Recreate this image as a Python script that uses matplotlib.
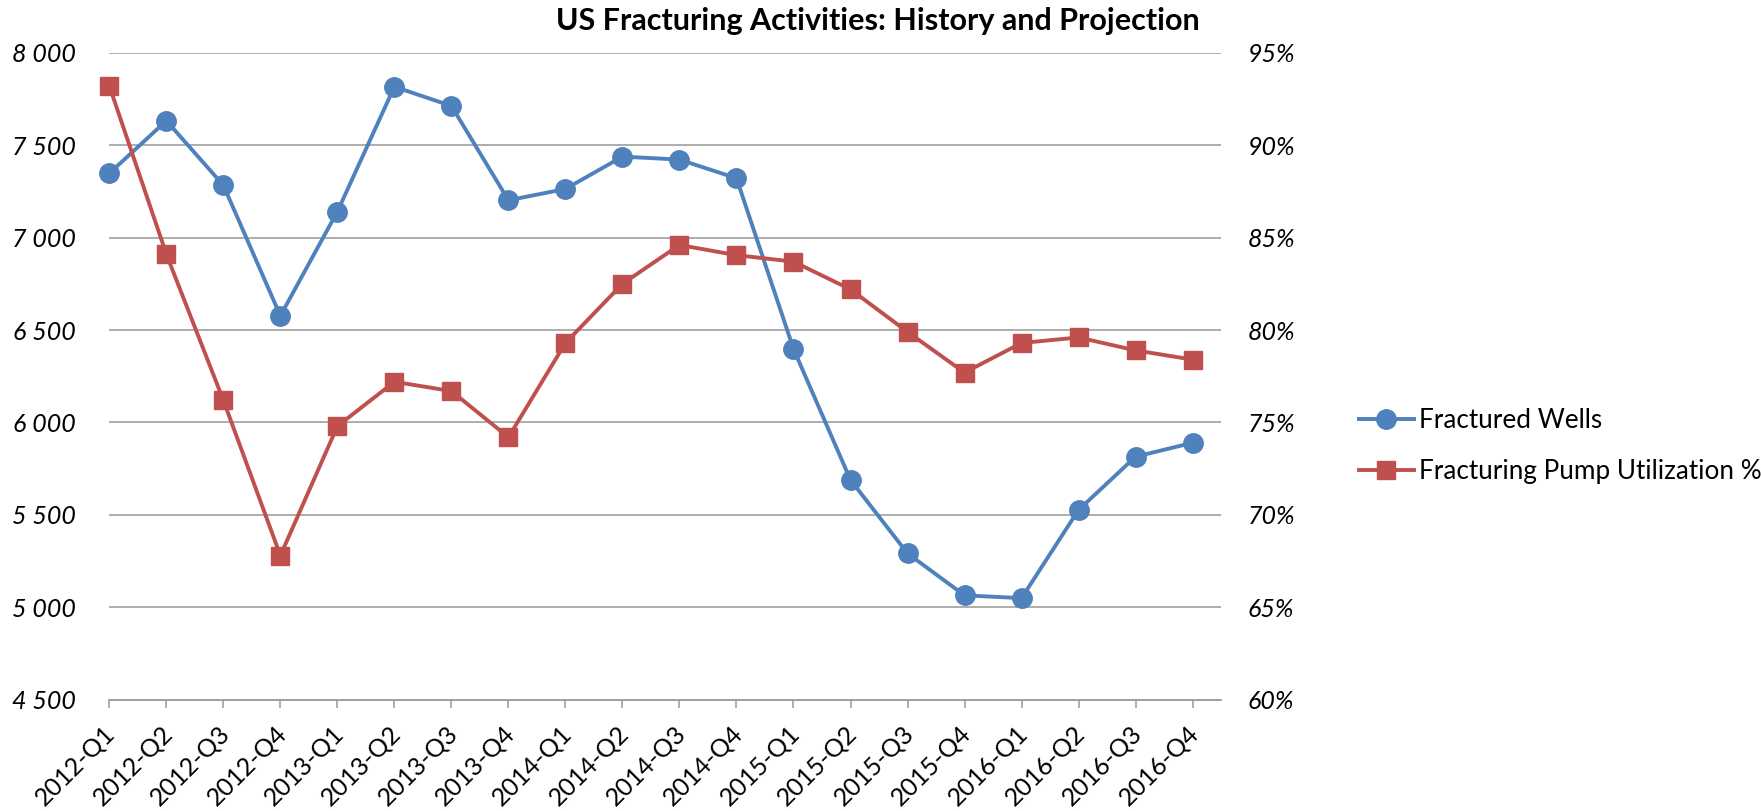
import numpy as np
import matplotlib
matplotlib.use('Agg')
import matplotlib.pyplot as plt
from matplotlib.ticker import FuncFormatter, MultipleLocator
from matplotlib.transforms import ScaledTranslation

plt.rcParams['font.family'] = ['Lato', 'DejaVu Sans']

# data
quarters = ['2012-Q1', '2012-Q2', '2012-Q3', '2012-Q4',
            '2013-Q1', '2013-Q2', '2013-Q3', '2013-Q4',
            '2014-Q1', '2014-Q2', '2014-Q3', '2014-Q4',
            '2015-Q1', '2015-Q2', '2015-Q3', '2015-Q4',
            '2016-Q1', '2016-Q2', '2016-Q3', '2016-Q4']
fractured_wells = [7348, 7632, 7283, 6577,
                   7141, 7816, 7712, 7202,
                   7263, 7438, 7422, 7321,
                   6398, 5689, 5292, 5065,
                   5050, 5527, 5815, 5890]
pump_util = [93.2, 84.1, 76.2, 67.8,
             74.8, 77.2, 76.7, 74.2,
             79.3, 82.5, 84.6, 84.05,
             83.7, 82.2, 79.9, 77.7,
             79.3, 79.6, 78.9, 78.4]

blue = '#4F81BD'
red = '#C0504D'
grid_c = '#A0A0A0'

fig = plt.figure(figsize=(17.61, 8.11), dpi=100)
ax = fig.add_axes([0.0621, 0.1371, 0.6313, 0.7979])
ax2 = ax.twinx()

x = np.arange(len(quarters))
l1, = ax.plot(x, fractured_wells, color=blue, lw=2.8, marker='o', ms=14,
              label='Fractured Wells', clip_on=False)
l2, = ax2.plot(x, np.array(pump_util) / 100, color=red, lw=2.8, marker='s', ms=13.5,
               label='Fracturing Pump Utilization %', clip_on=False)

ax.set_xlim(0, 19.5)
ax.set_ylim(4500, 8000)
ax2.set_ylim(0.60, 0.95)
ax.yaxis.set_major_locator(MultipleLocator(500))
ax2.yaxis.set_major_locator(MultipleLocator(0.05))
ax.yaxis.set_major_formatter(FuncFormatter(lambda v, p: '{:,.0f}'.format(v).replace(',', ' ')))
ax2.yaxis.set_major_formatter(FuncFormatter(lambda v, p: '{:.0f}%'.format(v * 100)))

ax.grid(axis='y', color=grid_c, lw=1.2)
ax.set_axisbelow(True)
for a in (ax, ax2):
    for s in ('left', 'right', 'top'):
        a.spines[s].set_visible(False)
    a.spines['bottom'].set_color(grid_c)
    a.spines['bottom'].set_linewidth(1.2)

ax.tick_params(axis='y', length=0, pad=24, labelsize=18)
ax2.tick_params(axis='y', length=0, pad=19, labelsize=18)
for lab in ax.get_yticklabels() + ax2.get_yticklabels():
    lab.set_fontstyle('italic')

ax.set_xticks(x)
ax.set_xticklabels(quarters, rotation=45, ha='right', va='center',
                   rotation_mode='anchor', fontsize=18)
ax.tick_params(axis='x', length=6, width=1.2, color=grid_c, pad=15)
off = ScaledTranslation(2 / 100, 0, fig.dpi_scale_trans)
for lab in ax.get_xticklabels():
    lab.set_transform(lab.get_transform() + off)

fig.text(0.4983, 1 - 21 / 811, 'US Fracturing Activities: History and Projection',
         ha='center', va='center', fontsize=22, fontweight='bold')

fig.legend([l1, l2], [l1.get_label(), l2.get_label()], loc='center left',
           bbox_to_anchor=(1359 / 1761, 1 - 446 / 811), frameon=False,
           borderpad=0, borderaxespad=0, handlelength=2.1, handletextpad=0.2,
           labelspacing=1.0, fontsize=18.8)

fig.savefig('out.png', dpi=100)
